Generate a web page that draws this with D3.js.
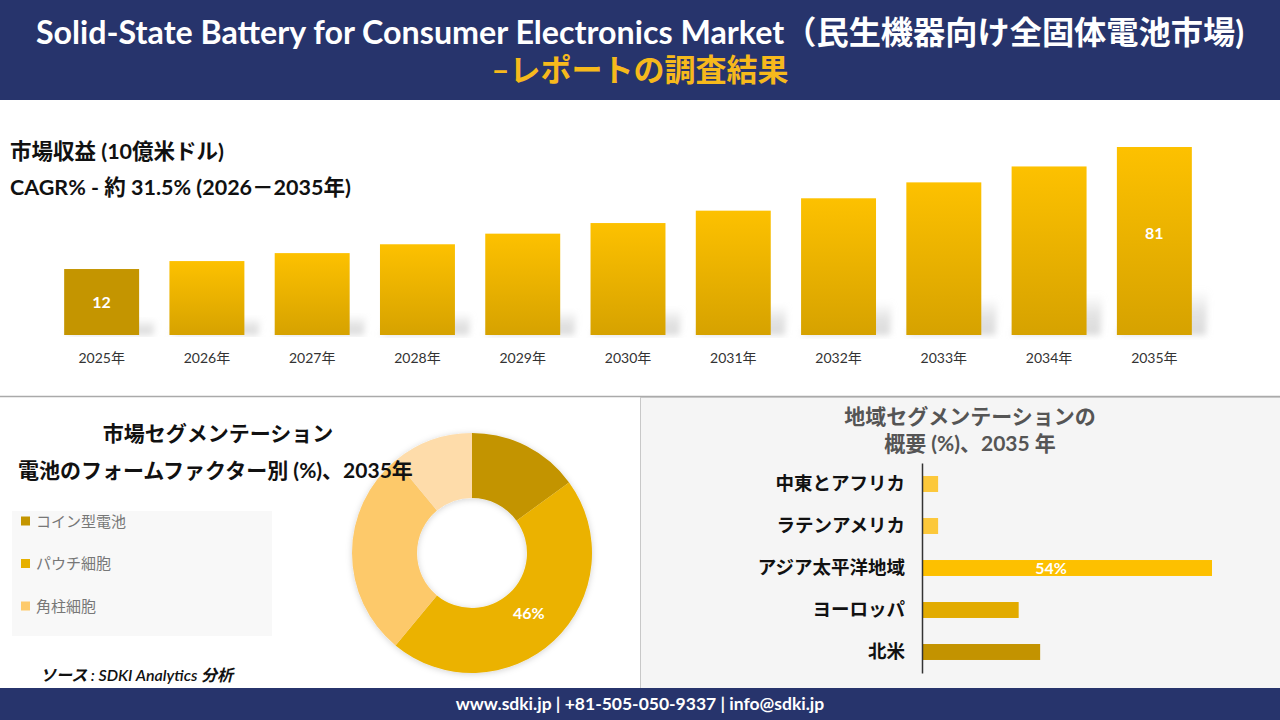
<!DOCTYPE html>
<html>
<head>
<meta charset="utf-8">
<script src="https://cdn.jsdelivr.net/npm/d3@7"></script>
<style>
  body { margin: 0; background: #fff; }
  svg { display: block; font-family: "Lato", "Noto Sans CJK JP", sans-serif; }
</style>
</head>
<body>
<div id="container"></div>
<script>
// market revenue (USD bn)
const years = ["2025年", "2026年", "2027年", "2028年", "2029年", "2030年", "2031年", "2032年", "2033年", "2034年", "2035年"]
const revenue = [12, 16.5, 21, 26, 32, 38, 45, 52, 61, 70, 81]
const revenueLabels = { "2025年": "12", "2035年": "81" }

// form factor share 2035
const formFactors = ["コイン型電池", "パウチ細胞", "角柱細胞", "その他"]
const formShare = [15, 46, 28, 11]
const formColors = ["#c39400", "#ebb200", "#fdc96b", "#fedcaa"]

// regional share 2035
const regions = ["中東とアフリカ", "ラテンアメリカ", "アジア太平洋地域", "ヨーロッパ", "北米"]
const regionShare = [3, 3, 54, 18, 22]
const regionColors = ["#fcc83a", "#fcc83a", "#fdc000", "#e2ab00", "#c39300"]

const width = 1280, height = 720
const navy = "#27346c"

const svg = d3.select("#container")
  .append("svg")
  .attr("width", width)
  .attr("height", height)

const defs = svg.append("defs")

const barGrad = defs.append("linearGradient")
  .attr("id", "barGrad").attr("x1", 0).attr("y1", 0).attr("x2", 0).attr("y2", 1)
barGrad.append("stop").attr("offset", "0%").attr("stop-color", "#fdc100")
barGrad.append("stop").attr("offset", "100%").attr("stop-color", "#d6a200")

const shadowGrad = defs.append("linearGradient")
  .attr("id", "shadowGrad").attr("x1", 0).attr("y1", 0).attr("x2", 0).attr("y2", 1)
shadowGrad.append("stop").attr("offset", "0%").attr("stop-color", "#c8c8c8").attr("stop-opacity", 0)
shadowGrad.append("stop").attr("offset", "50%").attr("stop-color", "#c8c8c8").attr("stop-opacity", 0.5)
shadowGrad.append("stop").attr("offset", "100%").attr("stop-color", "#cfcfcf").attr("stop-opacity", 0.75)

defs.append("filter").attr("id", "blur")
  .append("feGaussianBlur").attr("stdDeviation", 3)

const donutShadow = defs.append("filter").attr("id", "donutShadow")
  .attr("x", "-20%").attr("y", "-20%").attr("width", "140%").attr("height", "140%")
donutShadow.append("feDropShadow")
  .attr("dx", 0).attr("dy", 1).attr("stdDeviation", 3)
  .attr("flood-color", "#000").attr("flood-opacity", 0.18)

// header
svg.append("rect").attr("width", width).attr("height", 100).attr("fill", navy)
svg.append("text")
  .attr("x", width / 2).attr("y", 44)
  .attr("text-anchor", "middle")
  .attr("fill", "#fff").attr("font-size", 32).attr("font-weight", "bold")
  .attr("textLength", 1208).attr("lengthAdjust", "spacingAndGlyphs")
  .text("Solid-State Battery for Consumer Electronics Market（民生機器向け全固体電池市場)")
svg.append("text")
  .attr("x", width / 2).attr("y", 81)
  .attr("text-anchor", "middle")
  .attr("fill", "#f6b91c").attr("font-size", 31).attr("font-weight", "bold")
  .text("–レポートの調査結果")

// top texts
svg.append("text").attr("x", 10).attr("y", 159)
  .attr("font-size", 21.5).attr("font-weight", "bold").attr("fill", "#111")
  .text("市場収益 (10億米ドル)")
svg.append("text").attr("x", 10).attr("y", 195)
  .attr("font-size", 21.5).attr("font-weight", "bold").attr("fill", "#111")
  .text("CAGR% - 約 31.5% (2026－2035年)")

// revenue bars
const xScale = d3.scaleBand()
  .domain(years)
  .range([49, 1207])
  .paddingInner(0.288)
  .paddingOuter(0.144)

const yScale = d3.scaleLinear()
  .domain([-25.3, 81])
  .range([335, 147])

const barData = years.map((y, i) => ({ year: y, value: revenue[i] }))
const base = yScale.range()[0]

svg.selectAll(".shadow")
  .data(barData)
  .join("path")
  .attr("class", "shadow")
  .attr("fill", "url(#shadowGrad)")
  .attr("filter", "url(#blur)")
  .attr("d", d => {
    const x0 = xScale(d.year), x1 = x0 + xScale.bandwidth()
    const sh = (base - yScale(d.value)) * 0.24
    return `M${x0},${base}L${x0 + 26},${base - sh}L${x1 + 16},${base - sh}L${x1 + 14},${base}Z`
  })

svg.selectAll(".bar")
  .data(barData)
  .join("rect")
  .attr("class", "bar")
  .attr("x", d => xScale(d.year))
  .attr("y", d => yScale(d.value))
  .attr("width", xScale.bandwidth())
  .attr("height", d => base - yScale(d.value))
  .attr("fill", (d, i) => i === 0 ? "#c49500" : "url(#barGrad)")

svg.selectAll(".barLabel")
  .data(barData.filter(d => revenueLabels[d.year]))
  .join("text")
  .attr("class", "barLabel")
  .attr("x", d => xScale(d.year) + xScale.bandwidth() / 2)
  .attr("y", d => Math.min((yScale(d.value) + base) / 2, yScale(d.value) + 86) + 6)
  .attr("text-anchor", "middle")
  .attr("fill", "#fff").attr("font-size", 16).attr("font-weight", "bold")
  .text(d => revenueLabels[d.year])

const xAxis = d3.axisBottom(xScale).tickSize(0).tickPadding(18)
const xAxisGroup = svg.append("g")
  .attr("class", "xAxis")
  .attr("transform", `translate(0, ${base})`)
  .call(xAxis)
xAxisGroup.select(".domain").remove()
xAxisGroup.selectAll("text")
  .attr("font-size", 14).attr("fill", "#333")
  .attr("font-family", "Lato, 'Noto Sans CJK JP', sans-serif")

// divider
svg.append("line").attr("x1", 0).attr("x2", width).attr("y1", 396.5).attr("y2", 396.5)
  .attr("stroke", "#aaa").attr("stroke-width", 1.5)

// right panel background
svg.append("rect").attr("x", 640.5).attr("y", 397.5).attr("width", 640).attr("height", 291)
  .attr("fill", "#f5f5f5").attr("stroke", "#c8c8c8")

// donut
const pie = d3.pie().sort(null)
const arc = d3.arc().innerRadius(55).outerRadius(120)
const arcs = pie(formShare)

const donut = svg.append("g")
  .attr("transform", "translate(472, 553)")
  .attr("filter", "url(#donutShadow)")
donut.selectAll("path")
  .data(arcs)
  .join("path")
  .attr("d", arc)
  .attr("fill", (d, i) => formColors[i])

const labelArc = d3.arc().innerRadius(83).outerRadius(83)
const c46 = labelArc.centroid(arcs[1])
svg.append("text")
  .attr("transform", `translate(${472 + c46[0]}, ${553 + c46[1] + 5})`)
  .attr("text-anchor", "middle")
  .attr("fill", "#fff").attr("font-size", 16).attr("font-weight", "bold")
  .text(formShare[1] + "%")

// left titles
svg.append("text").attr("x", 218).attr("y", 441)
  .attr("text-anchor", "middle")
  .attr("font-size", 21).attr("font-weight", "bold").attr("fill", "#111")
  .text("市場セグメンテーション")
svg.append("text").attr("x", 18).attr("y", 478)
  .attr("font-size", 21).attr("font-weight", "bold").attr("fill", "#111")
  .text("電池のフォームファクター別 (%)、2035年")

// legend
svg.append("rect").attr("x", 12).attr("y", 511).attr("width", 260).attr("height", 125)
  .attr("fill", "#f8f8f8")
const legendColors = ["#c49500", "#e6b000", "#fdca6b"]
const legend = svg.selectAll(".legend")
  .data(formFactors.slice(0, 3))
  .join("g")
  .attr("class", "legend")
  .attr("transform", (d, i) => `translate(21, ${521 + i * 42.5})`)
legend.append("rect").attr("x", 0).attr("y", -4.5).attr("width", 9).attr("height", 9)
  .attr("fill", (d, i) => legendColors[i])
legend.append("text").attr("x", 15).attr("y", 5.5)
  .attr("font-size", 15).attr("fill", "#777")
  .text(d => d)

// source
svg.append("text").attr("x", 40).attr("y", 681)
  .attr("font-size", 16).attr("font-style", "italic").attr("font-weight", 600).attr("fill", "#111")
  .text("ソース : SDKI Analytics 分析")

// regional chart
svg.append("text").attr("x", 970).attr("y", 424)
  .attr("text-anchor", "middle")
  .attr("font-size", 21).attr("font-weight", "bold").attr("fill", "#555")
  .text("地域セグメンテーションの")
svg.append("text").attr("x", 970).attr("y", 451)
  .attr("text-anchor", "middle")
  .attr("font-size", 21).attr("font-weight", "bold").attr("fill", "#555")
  .text("概要 (%)、2035 年")

const hx = d3.scaleLinear().domain([0, 54]).range([922, 1212])
const hy = d3.scaleBand().domain(regions).range([463, 673]).paddingInner(0.62).paddingOuter(0.31)

svg.selectAll(".hbar")
  .data(regions)
  .join("rect")
  .attr("class", "hbar")
  .attr("x", hx(0))
  .attr("y", d => hy(d))
  .attr("width", (d, i) => hx(regionShare[i]) - hx(0))
  .attr("height", hy.bandwidth())
  .attr("fill", (d, i) => regionColors[i])

const yAxis = d3.axisLeft(hy).tickSize(0).tickPadding(17)
const yAxisGroup = svg.append("g")
  .attr("class", "yAxis")
  .attr("transform", `translate(${hx(0)}, 0)`)
  .call(yAxis)
yAxisGroup.select(".domain").attr("stroke", "#333").attr("stroke-width", 1.5)
yAxisGroup.selectAll("text")
  .attr("font-size", 18.5).attr("font-weight", "bold").attr("fill", "#111")
  .attr("font-family", "Lato, 'Noto Sans CJK JP', sans-serif")

svg.append("text")
  .attr("x", (hx(0) + hx(54)) / 2 - 16)
  .attr("y", hy(regions[2]) + hy.bandwidth() / 2 + 6)
  .attr("text-anchor", "middle")
  .attr("fill", "#fff").attr("font-size", 16).attr("font-weight", "bold")
  .text(regionShare[2] + "%")

// footer
svg.append("rect").attr("y", 688).attr("width", width).attr("height", 32).attr("fill", navy)
svg.append("text").attr("x", width / 2).attr("y", 710)
  .attr("text-anchor", "middle")
  .attr("fill", "#fff").attr("font-size", 17.5).attr("font-weight", "bold")
  .text("www.sdki.jp | +81-505-050-9337 | info@sdki.jp")
</script>
</body>
</html>
